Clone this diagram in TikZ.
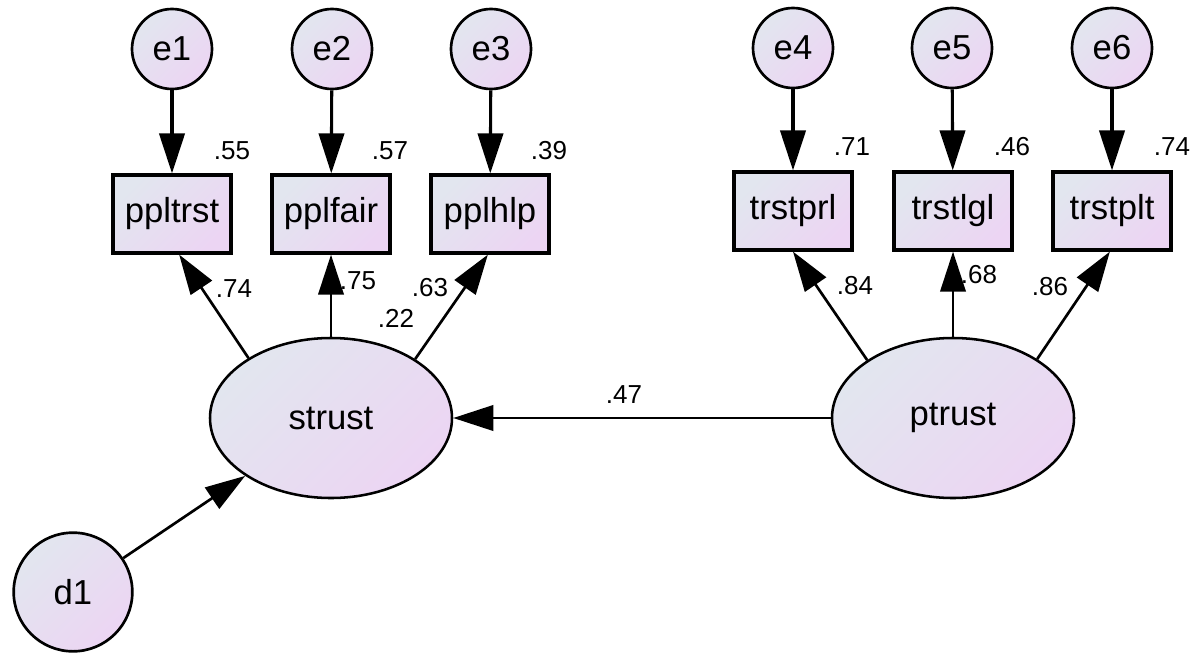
\documentclass[tikz,border=0pt]{standalone}
\usepackage{fontspec}
\setmainfont{Liberation Sans}
\usetikzlibrary{shapes.geometric,arrows.meta}
\definecolor{cA}{RGB}{226,230,239}
\definecolor{cB}{RGB}{236,213,243}
\tikzset{
  fillgrad/.style={top color=cA, bottom color=cB, shading angle=45},
  errc/.style={circle, draw=black, line width=2pt, fillgrad, minimum size=60pt, inner sep=0pt, font=\fontsize{26}{28}\selectfont},
  disc/.style={circle, draw=black, line width=2pt, fillgrad, minimum size=89pt, inner sep=0pt, font=\fontsize{26}{28}\selectfont},
  obsbox/.style={rectangle, draw=black, line width=2.4pt, fillgrad, minimum width=88.5pt, minimum height=58.5pt, inner sep=0pt, font=\fontsize{26}{28}\selectfont},
  latent/.style={ellipse, draw=black, line width=1.9pt, fillgrad, minimum width=181.5pt, minimum height=120pt, inner sep=0pt, font=\fontsize{26}{28}\selectfont},
  arr/.style={line width=2.3pt, -{Triangle[length=30pt, width=19pt]}},
  arrthin/.style={line width=2pt, -{Triangle[length=30pt, width=19pt]}},
  coef/.style={inner sep=0pt, font=\fontsize{19.5}{21}\selectfont}
}
\begin{document}
\begin{tikzpicture}[x=0.75pt, y=-0.75pt]
\useasboundingbox (0,0) rectangle (1192,653);
% error terms
\node[errc] (e1) at (172,49) {e1};
\node[errc] (e2) at (332,49) {e2};
\node[errc] (e3) at (491,49) {e3};
\node[errc] (e4) at (793,48) {e4};
\node[errc] (e5) at (952,48) {e5};
\node[errc] (e6) at (1112,48) {e6};
% observed
\node[obsbox] (ppltrst) at (172,214) {ppltrst};
\node[obsbox] (pplfair) at (331,214) {pplfair};
\node[obsbox] (pplhlp) at (490,214) {pplhlp};
\node[obsbox] (trstprl) at (793,211) {trstprl};
\node[obsbox] (trstlgl) at (953,211) {trstlgl};
\node[obsbox] (trstplt) at (1112,211) {trstplt};
% latent
\node[latent] (strust) at (331,418) {strust};
\node[latent] (ptrust) at (953,418) {ptrust};
\node[disc] (d1) at (73,592) {d1};
% arrows
\draw[arr] (e1) -- (ppltrst);
\draw[arr] (e2) -- (pplfair);
\draw[arr] (e3) -- (pplhlp);
\draw[arr] (e4) -- (trstprl);
\draw[arr] (e5) -- (trstlgl);
\draw[arr] (e6) -- (trstplt);
\draw[arrthin] (strust.144.5) -- (ppltrst.-80);
\draw[arrthin] (strust.north) -- (pplfair.south);
\draw[arrthin] (strust.35) -- (pplhlp.-93);
\draw[arrthin] (ptrust.146) -- (trstprl.south);
\draw[arrthin] (ptrust.north) -- (trstlgl.south);
\draw[arrthin] (ptrust.35) -- (trstplt.-93);
\draw[arrthin] (ptrust.west) -- (strust.east);
\draw[arrthin] (d1.34) -- (strust.214);
% labels
\node[coef] (l1) at (232,151) {.55};
\node[coef] (l2) at (390,151) {.57};
\node[coef] (l3) at (549,151) {.39};
\node[coef] (l4) at (852,147) {.71};
\node[coef] (l5) at (1012,147) {.46};
\node[coef] (l6) at (1172,147) {.74};
\node[coef] (l7) at (234,289) {.74};
\node[coef] (l8) at (358,281) {.75};
\node[coef] (l9) at (430,288) {.63};
\node[coef] (l10) at (396,318) {.22};
\node[coef] (l11) at (855,286) {.84};
\node[coef] (l12) at (979,275) {.68};
\node[coef] (l13) at (1050,287) {.86};
\node[coef] (l14) at (624,395) {.47};
\end{tikzpicture}
\end{document}
